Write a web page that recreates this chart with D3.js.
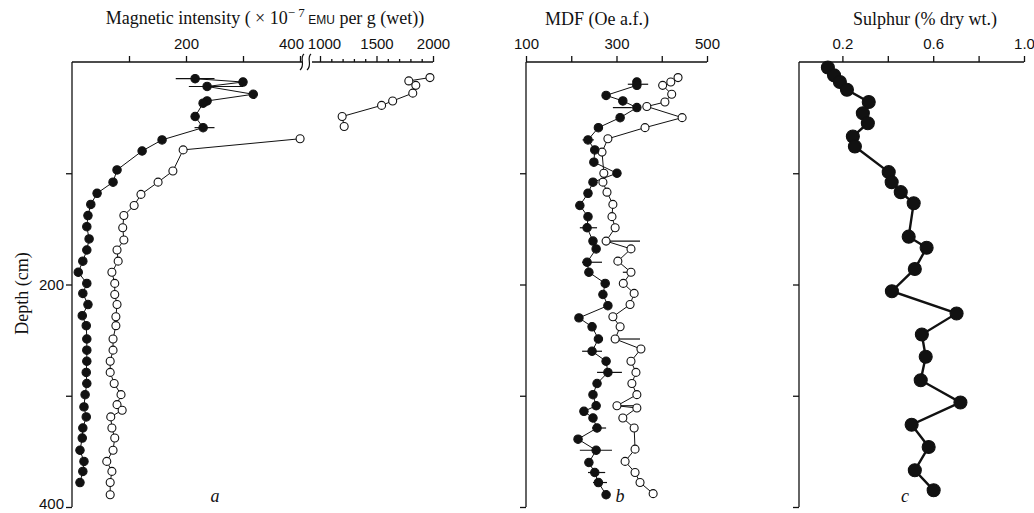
<!DOCTYPE html>
<html>
<head>
<meta charset="utf-8">
<script src="https://cdn.jsdelivr.net/npm/d3@7"></script>
<style>
  body { margin: 0; background: #fff; }
  svg { display: block; }
  .tick text { font-family: "Liberation Sans", Arial, sans-serif; font-size: 15px; fill: #111; }
  .tick line, .domain { stroke: #111; stroke-width: 1.3; }
  .title { font-family: "Liberation Serif", "Times New Roman", serif; font-size: 18px; fill: #111; }
</style>
</head>
<body>
<svg width="1034" height="513"></svg>
<script>
// depth ticks
const depthTicks = [100, 200, 300, 400];

// panel a: magnetic intensity
const magDepthFilled = [15,18,22,29,35,37,49,59,70,80,97,108,118,128,138,148,159,169,179,189,199,208,218,228,237,249,259,269,279,289,299,310,319,329,338,349,359,368,378];
const magFilled = [216,300,237,318,237,230,216,230,158,123,79,72,44,33,28,26,30,26,19,11,26,19,28,18,25,26,26,26,25,26,23,21,25,19,18,14,21,19,14];
const magDepthOpen = [14,17,21,28,35,39,49,58,69,79,98,108,119,129,138,149,160,169,179,189,199,209,218,229,237,249,259,269,279,289,299,308,313,319,329,338,349,359,368,378,389];
const magOpen = [1973,1786,1848,1821,1643,1545,1196,1214,403,195,177,151,121,109,91,89,91,79,81,70,75,75,79,77,77,72,72,67,67,74,86,79,88,68,70,75,72,61,70,67,67];
const magErrDepth = [15, 22, 59];
const magErrLo = [182, 205, 215];
const magErrHi = [250, 300, 250];
const magTicksLow = [100, 200, 300, 400];
const magLabelsLow = [200, 400];
const magTicksHigh = [1000,1100,1200,1300,1400,1500,1600,1700,1800,1900,2000];
const magLabelsHigh = [1000, 1500, 2000];

// panel b: MDF
const mdfDepthFilled = [18,21,30,35,41,50,59,70,79,90,100,108,118,129,139,149,161,168,180,189,199,209,219,230,238,249,260,269,279,289,299,309,314,320,329,339,349,360,369,378,389];
const mdfFilled = [345,345,277,314,345,308,260,237,252,250,301,248,237,219,237,235,248,255,235,239,275,270,281,217,246,260,246,277,281,257,248,255,228,248,257,215,255,239,252,260,277];
const mdfDepthOpen = [14,18,21,29,36,40,50,59,69,81,100,108,117,128,139,149,161,168,179,189,199,208,218,229,238,249,258,269,279,289,299,309,311,320,329,348,359,369,378,388];
const mdfOpen = [436,420,402,422,407,367,445,363,281,268,272,270,279,292,290,297,277,332,303,332,315,339,330,292,308,297,354,332,343,334,345,301,345,314,339,341,319,341,352,381];
const mdfFilledErrDepth = [20, 41, 70, 149, 180, 260, 279, 329, 349, 369, 378];
const mdfFilledErrLo = [325, 292, 225, 219, 224, 224, 257, 246, 219, 237, 248];
const mdfFilledErrHi = [370, 334, 250, 257, 268, 268, 312, 277, 290, 275, 279];
const mdfOpenErrDepth = [161, 189, 249, 309];
const mdfOpenErrLo = [277, 314, 297, 297];
const mdfOpenErrHi = [352, 336, 352, 352];
const mdfTicks = [100, 200, 300, 400, 500];
const mdfLabels = [100, 300, 500];

// panel c: sulphur
const sulDepth = [5,12,18,25,36,46,55,67,76,99,108,117,127,157,167,186,206,226,245,265,286,306,326,346,367,385];
const sulphur = [0.136,0.163,0.189,0.22,0.316,0.29,0.312,0.246,0.255,0.404,0.417,0.457,0.514,0.492,0.571,0.519,0.418,0.703,0.55,0.567,0.545,0.72,0.505,0.58,0.519,0.602];
const sulTicks = [0.2, 0.4, 0.6, 0.8, 1.0];
const sulLabels = [0.2, 0.6, 1.0];

const svg = d3.select("svg");
const y = d3.scaleLinear().domain([0, 400]).range([62, 507]);

// x scales
const xa = d3.scaleLinear().domain([0, 400, 1000, 2000]).range([72, 300, 320, 433]);
const xaLow = d3.scaleLinear().domain([0, 400]).range([72, 300]);
const xaHigh = d3.scaleLinear().domain([1000, 2000]).range([320, 433]);
const xb = d3.scaleLinear().domain([100, 500]).range([526, 707]);
const xc = d3.scaleLinear().domain([0, 1]).range([797, 1024]);

function leftAxis(x0, labels) {
  const g = svg.append("g").attr("transform", `translate(${x0},0)`)
    .call(d3.axisLeft(y).tickValues(depthTicks).tickSize(6).tickSizeOuter(0)
      .tickFormat(d => labels.includes(d) ? d : ""));
  g.select(".domain").attr("d", `M0,${y(0)}V${y(400)}`);
  g.selectAll(".tick text").attr("x", -8).attr("dy", d => d === 400 ? "0.1em" : "0.32em");
  return g;
}

function topAxis(scale, ticks, labels, x0, x1, fmt, shift) {
  const g = svg.append("g").attr("transform", `translate(0,${y(0)})`)
    .call(d3.axisTop(scale).tickValues(ticks).tickSizeOuter(0)
      .tickSize(5).tickFormat(d => labels.includes(d) ? fmt(d) : ""));
  g.select(".domain").attr("d", `M${x0},0H${x1}`);
  g.selectAll(".tick line").attr("y2", d => labels.includes(d) || ticks.length < 6 ? -6 : -3);
  g.selectAll(".tick text").attr("y", -13).attr("dx", d => (shift && shift[d]) || 0);
  return g;
}

function drawLine(xs, depths, vals, width) {
  svg.append("path")
    .datum(d3.range(vals.length))
    .attr("fill", "none").attr("stroke", "#111").attr("stroke-width", width)
    .attr("d", d3.line().x(i => xs(vals[i])).y(i => y(depths[i])));
}

function drawErr(xs, depths, lo, hi) {
  svg.append("g").selectAll("line").data(d3.range(depths.length)).join("line")
    .attr("x1", i => xs(lo[i])).attr("x2", i => xs(hi[i]))
    .attr("y1", i => y(depths[i])).attr("y2", i => y(depths[i]))
    .attr("stroke", "#111").attr("stroke-width", 1.2);
}

function drawDots(xs, depths, vals, r, filled) {
  svg.append("g").selectAll("circle").data(d3.range(vals.length)).join("circle")
    .attr("cx", i => xs(vals[i])).attr("cy", i => y(depths[i])).attr("r", r)
    .attr("fill", filled ? "#111" : "#fff")
    .attr("stroke", "#111").attr("stroke-width", 1.1);
}

// ---- panel a
leftAxis(xa(0), [200, 400]);
topAxis(xaLow, magTicksLow, magLabelsLow, xa(0), xa(400) + 2, d => d, {400: -9});
topAxis(xaHigh, magTicksHigh, magLabelsHigh, xa(1000) - 8, xa(2000), d => d, {1000: 4});
// axis break marks
[xa(400) + 2, xa(400) + 9].forEach(bx => {
  svg.append("path")
    .attr("d", `M${bx + 2},${y(0) - 8} C${bx - 3},${y(0) - 4} ${bx + 4},${y(0) + 3} ${bx - 2},${y(0) + 8}`)
    .attr("fill", "none").attr("stroke", "#111").attr("stroke-width", 1.2);
});

// open series: split where the axis break is crossed
const openIdx = d3.range(magOpen.length);
const segHigh = openIdx.filter(i => magOpen[i] >= 1000);
const segLow = openIdx.filter(i => magOpen[i] < 1000);
[segHigh, segLow].forEach(seg => {
  svg.append("path").datum(seg)
    .attr("fill", "none").attr("stroke", "#111").attr("stroke-width", 1)
    .attr("d", d3.line().x(i => xa(magOpen[i])).y(i => y(magDepthOpen[i])));
});
drawLine(xa, magDepthFilled, magFilled, 1);
drawErr(xa, magErrDepth, magErrLo, magErrHi);
drawDots(xa, magDepthOpen, magOpen, 4, false);
drawDots(xa, magDepthFilled, magFilled, 4.2, true);

// ---- panel b
leftAxis(xb(100), []);
topAxis(xb, mdfTicks, mdfLabels, xb(100), xb(500), d => d);
drawLine(xb, mdfDepthOpen, mdfOpen, 1);
drawLine(xb, mdfDepthFilled, mdfFilled, 1);
drawErr(xb, mdfFilledErrDepth, mdfFilledErrLo, mdfFilledErrHi);
drawErr(xb, mdfOpenErrDepth, mdfOpenErrLo, mdfOpenErrHi);
drawDots(xb, mdfDepthOpen, mdfOpen, 4, false);
drawDots(xb, mdfDepthFilled, mdfFilled, 4.2, true);

// ---- panel c
leftAxis(xc(0) + 2, []);
topAxis(xc, sulTicks, sulLabels, xc(0) + 2, xc(1), d => d.toFixed(1));
drawLine(xc, sulDepth, sulphur, 2.4);
drawDots(xc, sulDepth, sulphur, 6.5, true);

// ---- titles
const t1 = svg.append("text").attr("class", "title").attr("x", 265).attr("y", 24)
  .attr("text-anchor", "middle").attr("font-size", 19);
t1.append("tspan").text("Magnetic intensity ( × 10");
t1.append("tspan").attr("dy", -7).attr("font-size", 13).text("− 7");
t1.append("tspan").attr("dy", 7).attr("font-size", 12)
  .attr("font-family", "Liberation Sans, Arial, sans-serif").text(" EMU");
t1.append("tspan").text(" per g (wet))");

svg.append("text").attr("class", "title").attr("x", 597).attr("y", 25)
  .attr("text-anchor", "middle").attr("font-size", 17.5).text("MDF (Oe a.f.)");
svg.append("text").attr("class", "title").attr("x", 925).attr("y", 25)
  .attr("text-anchor", "middle").attr("font-size", 18.5).text("Sulphur (% dry wt.)");

svg.append("text").attr("class", "title").attr("font-size", 20)
  .attr("transform", `translate(28,${y(208)}) rotate(-90)`)
  .attr("text-anchor", "middle").text("Depth (cm)");

// panel letters
[["a", 215], ["b", 620], ["c", 905]].forEach(([t, x]) => {
  svg.append("text").attr("class", "title").attr("font-style", "italic")
    .attr("x", x).attr("y", y(392) + 4).attr("text-anchor", "middle").text(t);
});
</script>
</body>
</html>
